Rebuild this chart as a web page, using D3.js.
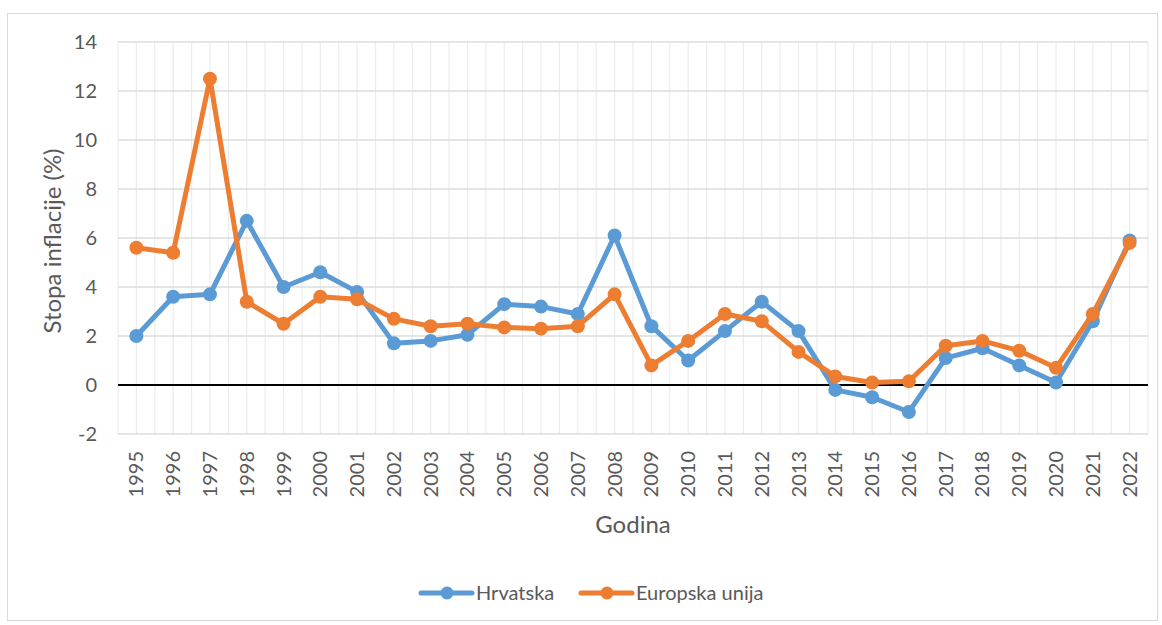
<!DOCTYPE html>
<html>
<head>
<meta charset="utf-8">
<script src="https://cdn.jsdelivr.net/npm/d3@7"></script>
<style>
  body { margin: 0; background: #fff; }
  text { font-family: Lato, "Open Sans", sans-serif; fill: #595959; }
</style>
</head>
<body>
<svg id="chart" width="1162" height="625"></svg>
<script>
var years = ["1995","1996","1997","1998","1999","2000","2001","2002","2003","2004",
  "2005","2006","2007","2008","2009","2010","2011","2012","2013","2014",
  "2015","2016","2017","2018","2019","2020","2021","2022"];
var hrvatska = [2.0, 3.6, 3.7, 6.7, 4.0, 4.6, 3.8, 1.7, 1.8, 2.05,
  3.3, 3.2, 2.9, 6.1, 2.4, 1.0, 2.2, 3.4, 2.2, -0.2,
  -0.5, -1.1, 1.1, 1.5, 0.8, 0.1, 2.6, 5.9];
var europskaUnija = [5.6, 5.4, 12.5, 3.4, 2.5, 3.6, 3.5, 2.7, 2.4, 2.5,
  2.35, 2.3, 2.4, 3.7, 0.8, 1.8, 2.9, 2.6, 1.35, 0.35,
  0.1, 0.15, 1.6, 1.8, 1.4, 0.7, 2.9, 5.8];
var yTicks = [-2, 0, 2, 4, 6, 8, 10, 12, 14];
var seriesNames = ["Hrvatska", "Europska unija"];

var colors = ["#5B9BD5", "#ED7D31"];
var svg = d3.select("#chart");
var plotLeft = 118, plotRight = 1148, plotTop = 42, plotBottom = 434;

// okvir
svg.append("rect")
  .attr("x", 7.5).attr("y", 13.5)
  .attr("width", 1150).attr("height", 607)
  .attr("fill", "none").attr("stroke", "#d9d9d9");

var x = d3.scaleBand().domain(years).range([plotLeft, plotRight]);
var y = d3.scaleLinear().domain([-2, 14]).range([plotBottom, plotTop]);
var bw = x.bandwidth();

// vertikalna mreza (granice i sredine kategorija)
var vlines = [];
years.forEach(function (d) {
  vlines.push(x(d));
  vlines.push(x(d) + bw / 2);
});
vlines.push(plotRight);
svg.append("g").selectAll("line")
  .data(vlines)
  .enter().append("line")
  .attr("x1", d => d).attr("x2", d => d)
  .attr("y1", plotTop).attr("y2", plotBottom)
  .attr("stroke", "#ececec").attr("stroke-width", 1.2);

// horizontalna mreza
svg.append("g").selectAll("line")
  .data(yTicks)
  .enter().append("line")
  .attr("x1", plotLeft).attr("x2", plotRight)
  .attr("y1", d => y(d)).attr("y2", d => y(d))
  .attr("stroke", "#dcdcdc").attr("stroke-width", 1.5);

// os y
var yAxis = svg.append("g")
  .attr("transform", "translate(" + plotLeft + ",0)")
  .call(d3.axisLeft(y).tickValues(yTicks).tickFormat(d => String(d)).tickSize(0).tickPadding(21));
yAxis.select(".domain").remove();
yAxis.selectAll("text").style("font-size", "20px").attr("fill", "#595959");

// os x
var xAxis = svg.append("g")
  .attr("transform", "translate(0," + plotBottom + ")")
  .call(d3.axisBottom(x).tickSize(0));
xAxis.select(".domain").remove();
xAxis.selectAll("text")
  .style("font-size", "20px")
  .attr("fill", "#595959")
  .attr("text-anchor", "end")
  .attr("transform", "rotate(-90)")
  .attr("x", -17).attr("y", 0).attr("dy", "0.35em");

// nulta linija
svg.append("line")
  .attr("x1", plotLeft).attr("x2", plotRight)
  .attr("y1", y(0)).attr("y2", y(0))
  .attr("stroke", "#000").attr("stroke-width", 2.2);

// linije
var line = d3.line()
  .x((d, i) => x(years[i]) + bw / 2)
  .y(d => y(d));
[hrvatska, europskaUnija].forEach(function (s, k) {
  svg.append("path")
    .datum(s)
    .attr("d", line)
    .attr("fill", "none")
    .attr("stroke", colors[k])
    .attr("stroke-width", 5)
    .attr("stroke-linejoin", "round");
  svg.append("g").selectAll("circle")
    .data(s)
    .enter().append("circle")
    .attr("cx", (d, i) => x(years[i]) + bw / 2)
    .attr("cy", d => y(d))
    .attr("r", 7)
    .attr("fill", colors[k]);
});

// naslovi osi
svg.append("text")
  .attr("transform", "translate(53,241) rotate(-90)")
  .attr("text-anchor", "middle")
  .attr("dy", "0.35em")
  .style("font-size", "24px")
  .text("Stopa inflacije (%)");
svg.append("text")
  .attr("x", 633).attr("y", 533)
  .attr("text-anchor", "middle")
  .style("font-size", "24px")
  .text("Godina");

// legenda
var legendX = [421, 581];
seriesNames.forEach(function (n, k) {
  var g = svg.append("g").attr("transform", "translate(" + legendX[k] + ",593)");
  g.append("line")
    .attr("x1", 0).attr("x2", 51)
    .attr("stroke", colors[k]).attr("stroke-width", 5)
    .attr("stroke-linecap", "round");
  g.append("circle").attr("cx", 26).attr("r", 6.5).attr("fill", colors[k]);
  g.append("text")
    .attr("x", 55).attr("dy", "0.35em")
    .style("font-size", "20px")
    .text(n);
});
</script>
</body>
</html>
